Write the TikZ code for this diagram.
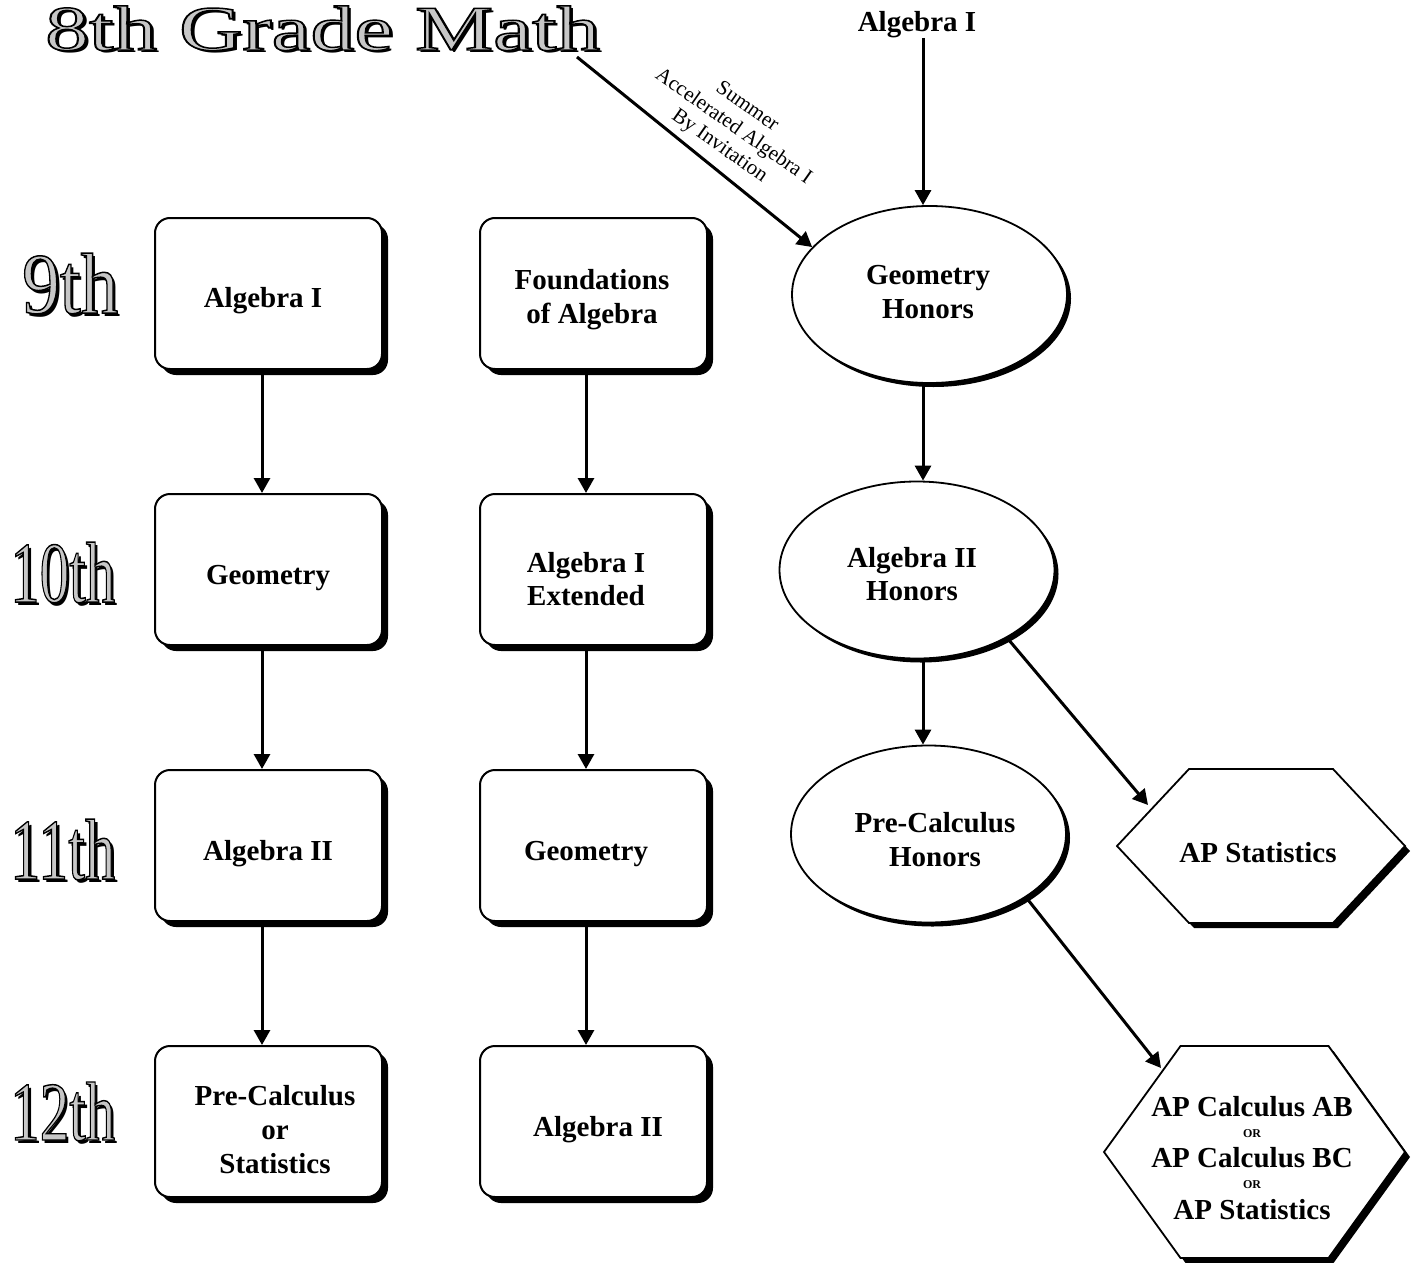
\documentclass[tikz,border=0pt]{standalone}
\usepackage{fontspec}
\setmainfont{Liberation Serif}
\usetikzlibrary{calc,shapes.geometric,arrows.meta,shadows}
\tikzset{
 shd/.style={drop shadow={shadow xshift=#1,shadow yshift=-#1,fill=black,opacity=1}},
 rbox/.style={draw,line width=2pt,fill=white,rounded corners=15pt,minimum width=227pt,minimum height=151pt,inner sep=0pt,shd=6pt},
 ell/.style={ellipse,draw,line width=1.8pt,fill=white,minimum width=275pt,minimum height=177pt,inner sep=0pt,shd=4pt},
 hexa/.style={draw,line width=1.8pt,fill=white,line join=miter,shd=5pt},
 anchorbox/.style={draw=none,inner sep=0pt},
 txt/.style={font=\bfseries\fontsize{29}{34}\selectfont,anchor=base,inner sep=0pt},
 smalltxt/.style={font=\bfseries\fontsize{12}{14}\selectfont,anchor=base,inner sep=0pt},
 arr/.style={line width=3pt,-{Triangle[length=15pt,width=16pt]}},
 wa/.style={anchor=base west,inner sep=0pt,font=\rmfamily},
}
% outlined grey text (fill + stroke render mode)
\newcommand\outl[1]{\special{pdf:literal direct 2 Tr 1.5 w 0 0 0 RG 0.78 g}#1\special{pdf:literal direct 0 Tr 0 g 0 G}}
% name, position, width, height, font size, text
\newcommand\wart[6]{%
 \node[wa,text=black] (#1s) at ($(#2)+(3,3)$) {\resizebox{#3}{#4}{\fontsize{#5}{#5}\selectfont #6}};
 \node[wa] (#1) at (#2) {\resizebox{#3}{#4}{\fontsize{#5}{#5}\selectfont\outl{#6}}};
}
\begin{document}
\begin{tikzpicture}[x=1pt,y=-1pt]
\fill[white] (0,0) rectangle (1413,1263);
\useasboundingbox (0,0) rectangle (1413,1263);

% word-art title and year labels
\wart{title}{45,50}{555pt}{44pt}{64}{8th Grade Math}
\wart{l9}{22,313}{96pt}{60pt}{87}{9th}
\wart{l10}{10,602}{105pt}{60pt}{87}{10th}
\wart{l11}{10,879}{105pt}{60pt}{87}{11th}
\wart{l12}{10,1140}{105pt}{58pt}{87}{12th}

% rounded boxes
\node[rbox] (b11) at (268.5,293.5) {};
\node[rbox] (b21) at (268.5,569.5) {};
\node[rbox] (b31) at (268.5,845.5) {};
\node[rbox] (b41) at (268.5,1121.5) {};
\node[rbox] (b12) at (593.5,293.5) {};
\node[rbox] (b22) at (593.5,569.5) {};
\node[rbox] (b32) at (593.5,845.5) {};
\node[rbox] (b42) at (593.5,1121.5) {};

\node[txt] (t11) at (263,307) {Algebra I};
\node[txt] (t21) at (268,584) {Geometry};
\node[txt] (t31) at (268,860) {Algebra II};
\node[txt] (t41a) at (275,1105) {Pre-Calculus};
\node[txt] (t41b) at (275,1139) {or};
\node[txt] (t41c) at (275,1173) {Statistics};
\node[txt] (t12a) at (592,289) {Foundations};
\node[txt] (t12b) at (592,323) {of Algebra};
\node[txt] (t22a) at (586,572) {Algebra I};
\node[txt] (t22b) at (586,605) {Extended};
\node[txt] (t32) at (586,860) {Geometry};
\node[txt] (t42) at (598,1136) {Algebra II};

% ellipses
\node[ell] (geomh) at (929.5,294.5) {};
\node[ell] (alg2h) at (917,570) {};
\node[ell] (pch) at (928.5,834) {};
\node[txt] (tg1) at (928,284) {Geometry};
\node[txt] (tg2) at (928,318) {Honors};
\node[txt] (ta1) at (912,567) {Algebra II};
\node[txt] (ta2) at (912,600) {Honors};
\node[txt] (tp1) at (935,832) {Pre-Calculus};
\node[txt] (tp2) at (935,866) {Honors};

% hexagons
\node[anchorbox,minimum width=288pt,minimum height=154pt] (aps) at (1261,846) {};
\path[hexa] ($(aps)+(-144,0)$) -- ($(aps)+(-72,-77)$) -- ($(aps)+(72,-77)$) -- ($(aps)+(144,0)$) -- ($(aps)+(72,77)$) -- ($(aps)+(-72,77)$) -- cycle;
\node[txt] (tas) at (1258,862) {AP Statistics};

\node[anchorbox,minimum width=301pt,minimum height=212pt] (apc) at (1254.5,1152) {};
\path[hexa] ($(apc)+(-150.5,0)$) -- ($(apc)+(-74,-106)$) -- ($(apc)+(74,-106)$) -- ($(apc)+(150.5,0)$) -- ($(apc)+(74,106)$) -- ($(apc)+(-74,106)$) -- cycle;
\node[txt] (tc1) at (1252,1116) {AP Calculus AB};
\node[smalltxt] (tc2) at (1252,1137) {OR};
\node[txt] (tc3) at (1252,1167) {AP Calculus BC};
\node[smalltxt] (tc4) at (1252,1188) {OR};
\node[txt] (tc5) at (1252,1219) {AP Statistics};

% top label and summer label
\node[txt] (topalg) at (917,32) {Algebra I};
\node[font=\fontsize{21}{24}\selectfont,rotate=-35,align=center,inner sep=0pt] (sumlbl) at (733,127) {Summer\\Accelerated Algebra I\\By Invitation};

% connectors
\coordinate (c1) at (262,0);
\coordinate (c2) at (586,0);
\coordinate (cR) at (923,0);
\coordinate (topA) at (923,38);
\coordinate (sumA) at (577,57);
\coordinate (apsin) at (1148,805);
\coordinate (apcin) at (1161,1068);

\draw[arr] (b11.south -| c1) -- (b21.north -| c1);
\draw[arr] (b21.south -| c1) -- (b31.north -| c1);
\draw[arr] (b31.south -| c1) -- (b41.north -| c1);
\draw[arr] (b12.south -| c2) -- (b22.north -| c2);
\draw[arr] (b22.south -| c2) -- (b32.north -| c2);
\draw[arr] (b32.south -| c2) -- (b42.north -| c2);

\draw[arr] (topA) -- (topA |- geomh.north);
\draw[arr] (sumA) -- (geomh.158);
\draw[arr] (geomh.south -| cR) -- (alg2h.north -| cR);
\draw[arr] (alg2h.south -| cR) -- (pch.north -| cR);
\draw[arr] (alg2h.-37) -- (apsin);
\draw[arr] (pch.-33) -- (apcin);
\end{tikzpicture}
\end{document}
